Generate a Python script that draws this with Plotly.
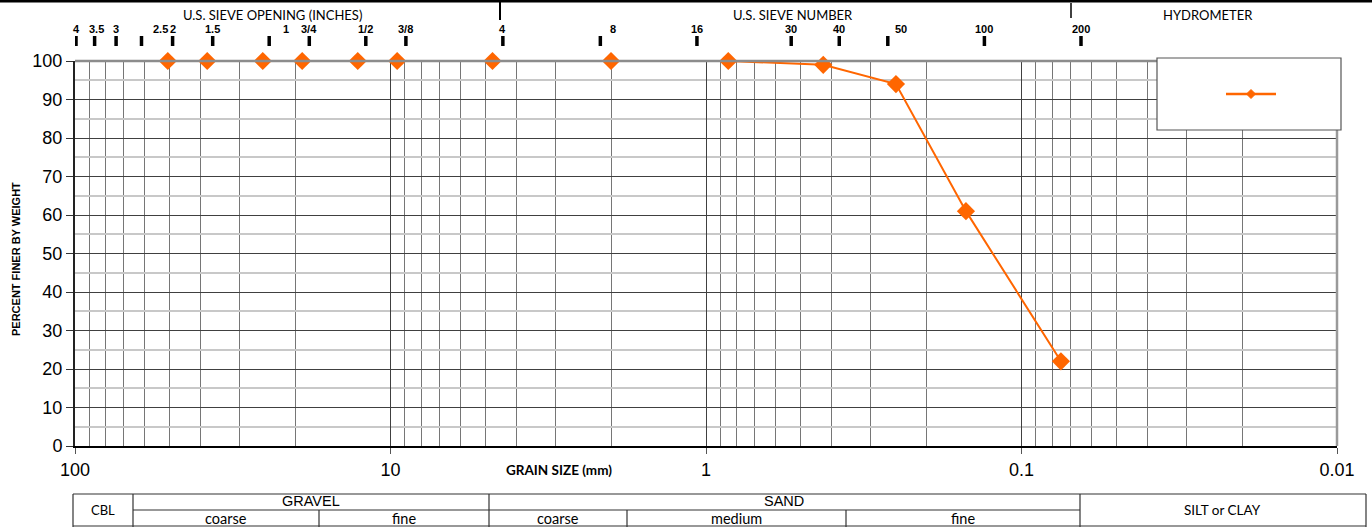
import math
import plotly.graph_objects as go

# ---- data ----
grain_mm = [50.8, 38.1, 25.4, 19.05, 12.7, 9.525, 4.75, 2.0, 0.85, 0.425, 0.25, 0.15, 0.075]
pct_finer = [100, 100, 100, 100, 100, 100, 100, 100, 100, 99, 94, 61, 22]

inch_labels = ["4", "3.5", "3", "2.5", "2", "1.5", "1", "3/4", "1/2", "3/8"]
inch_mm = [101.6, 88.9, 76.2, 63.5, 50.8, 38.1, 25.4, 19.05, 12.7, 9.525]
number_labels = ["4", "8", "16", "30", "40", "50", "100", "200"]
number_mm = [4.75, 2.36, 1.18, 0.6, 0.425, 0.3, 0.15, 0.075]

x_tick_vals = [100, 10, 1, 0.1, 0.01]
x_tick_text = ["100", "10", "1", "0.1", "0.01"]

# ---- layout geometry (pixels) ----
W, H = 1372, 527
L, R, T, B = 75, 35, 61, 81
PW, PH = W - L - R, H - T - B


def px(x):
    return (x - L) / PW


def py(y):
    return (H - B - y) / PH


ORANGE = "#FF6600"
TXT = "Liberation Sans"
CAL = "Lato"

fig = go.Figure()

fig.add_trace(go.Scatter(
    x=grain_mm, y=pct_finer, mode="lines+markers",
    line=dict(color=ORANGE, width=2),
    marker=dict(symbol="diamond", size=14, color=ORANGE),
    cliponaxis=False, showlegend=False, hoverinfo="x+y"))

# invisible trace so the top sieve scale (x2) exists
fig.add_trace(go.Scatter(x=[inch_mm[0]], y=[None], xaxis="x2", mode="markers",
                         showlegend=False, hoverinfo="skip"))

annotations = []
shapes = []

label_shift = {("in", "2.5"): 19, ("in", "3.5"): 2, ("in", "1"): 17,
               ("no", "8"): 13, ("no", "50"): 13}
for kind, labels, sizes in (("in", inch_labels, inch_mm), ("no", number_labels, number_mm)):
    for lab, mm in zip(labels, sizes):
        annotations.append(dict(xref="x2", yref="paper", x=math.log10(mm), y=py(29),
                                text=lab, showarrow=False, xanchor="center", yanchor="middle",
                                xshift=label_shift.get((kind, lab), 0),
                                font=dict(family=TXT, size=11, color="black", weight="bold")))
        shapes.append(dict(type="line", xref="x2", yref="paper", x0=mm, x1=mm,
                           y0=py(36), y1=py(46), line=dict(color="black", width=3.5),
                           layer="above"))


def text(x, y, s, size=12, family=CAL, bold=False, angle=0):
    annotations.append(dict(xref="paper", yref="paper", x=px(x), y=py(y), text=s,
                            showarrow=False, xanchor="center", yanchor="middle",
                            textangle=angle,
                            font=dict(family=family, size=size, color="black",
                                      weight="bold" if bold else "normal")))


text(272, 15, "U.S. SIEVE OPENING (INCHES)", 13)
text(793, 15, "U.S. SIEVE NUMBER", 13)
text(1208, 15, "HYDROMETER", 13)
text(559, 470, "GRAIN SIZE (mm)", 13.5, bold=True)
text(16, 259, "PERCENT FINER BY WEIGHT", 11, family=TXT, bold=True, angle=-90)

# classification table text
text(103, 510, "CBL", 13)
text(311, 501, "GRAVEL", 14.5, family=TXT)
text(784, 501, "SAND", 14.5, family=TXT)
text(226, 518, "coarse", 14.5)
text(404, 518, "fine", 14.5)
text(558, 518, "coarse", 14.5)
text(736, 518, "medium", 14.5)
text(963, 518, "fine", 14.5)
text(1222, 510, "SILT or CLAY", 13.5)


def hline(x0, x1, y, color="black", width=1):
    shapes.append(dict(type="line", xref="paper", yref="paper", x0=px(x0), x1=px(x1),
                       y0=py(y), y1=py(y), line=dict(color=color, width=width), layer="above"))


def vline(x, y0, y1, color="black", width=1):
    shapes.append(dict(type="line", xref="paper", yref="paper", x0=px(x), x1=px(x),
                       y0=py(y0), y1=py(y1), line=dict(color=color, width=width), layer="above"))


# header
hline(0, W, 1, width=3)
vline(500, 0, 20, width=2)
vline(1071, 3, 18, width=1.5)

# plot frame (top & right grey)
hline(L, W - R, T, color="#8c8c8c", width=2.5)
vline(W - R, T, H - B, color="#9a9a9a", width=2.5)

# table
hline(73, 1366, 494, color="#333", width=1.2)
hline(133, 1080, 510, color="#333", width=1.2)
hline(73, 1366, 526, color="#333", width=1.2)
for xv in [73, 133, 489, 1080, 1366]:
    vline(xv, 494, 527, color="#333", width=1.2)
for xv in [319, 627, 846]:
    vline(xv, 510, 527, color="#333", width=1.2)

# legend box
shapes.append(dict(type="rect", xref="paper", yref="paper", x0=px(1157), x1=px(1341),
                   y0=py(58), y1=py(130), fillcolor="white",
                   line=dict(color="#555", width=1.2), layer="above"))
hline(1226, 1276, 94, color=ORANGE, width=2.5)
cx, cy, r = 1251, 94, 4.5
shapes.append(dict(type="path", xref="paper", yref="paper",
                   path=f"M {px(cx - r)} {py(cy)} L {px(cx)} {py(cy - r)} L {px(cx + r)} {py(cy)} L {px(cx)} {py(cy + r)} Z",
                   fillcolor=ORANGE, line=dict(color=ORANGE, width=1), layer="above"))

fig.update_layout(
    width=W, height=H,
    margin=dict(l=L, r=R, t=T, b=B),
    paper_bgcolor="white", plot_bgcolor="white",
    showlegend=False,
    annotations=annotations, shapes=shapes,
    xaxis=dict(type="log", range=[2, -2], tickvals=x_tick_vals, ticktext=x_tick_text,
               tickfont=dict(family=TXT, size=18, color="black"),
               ticks="outside", ticklen=6, tickcolor="#555",
               showgrid=True, gridcolor="#404040", gridwidth=1,
               minor=dict(dtick="D1", showgrid=True, gridcolor="#767676", gridwidth=1, ticks=""),
               showline=True, linecolor="black", linewidth=2, zeroline=False),
    xaxis2=dict(type="log", range=[2.0100, -1.9227], overlaying="x", visible=False,
                showgrid=False),
    yaxis=dict(range=[0, 100], dtick=10,
               tickfont=dict(family=TXT, size=18, color="black"),
               ticks="outside", ticklen=7, tickcolor="#333",
               showgrid=True, gridcolor="#404040", gridwidth=1,
               minor=dict(dtick=5, showgrid=True, gridcolor="#c8c8c8", gridwidth=2, ticks=""),
               showline=True, linecolor="#222", linewidth=2, zeroline=False),
)

fig.write_html("out.html", config={"displayModeBar": False},
               post_script="document.body.style.margin='0';document.body.style.padding='0';")
